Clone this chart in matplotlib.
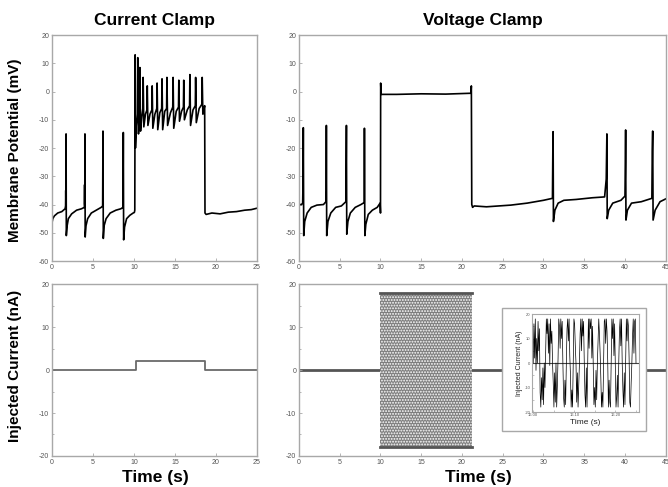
import numpy as np
import matplotlib
matplotlib.use("Agg")
import matplotlib.pyplot as plt
from matplotlib.patches import Rectangle

plt.rcParams['font.family'] = ['Liberation Sans', 'DejaVu Sans']
plt.rcParams['axes.unicode_minus'] = False
plt.rcParams['hatch.linewidth'] = 0.9

# ---------------- data ----------------
# Current clamp membrane potential: (time s, mV)
cc_points = [
    (0.0, -46.5), (0.1, -45), (0.3, -44), (0.7, -43), (1.2, -42.5), (1.6, -41.5),
    (1.66, -40.5), (1.68, -35), (1.70, -40), (1.72, -15), (1.75, -51), (1.85, -47.5),
    (2.0, -45), (2.4, -43.3), (3.0, -42), (3.6, -41.5),
    (3.95, -41), (3.98, -33), (4.00, -40), (4.02, -15), (4.05, -51.5), (4.15, -47.5),
    (4.35, -45), (4.8, -43), (5.4, -42), (6.0, -41),
    (6.18, -40.5), (6.22, -14), (6.26, -52), (6.36, -47.5), (6.6, -45),
    (7.1, -43), (7.8, -42), (8.4, -41.5),
    (8.66, -41), (8.70, -14.5), (8.74, -52.5), (8.85, -48), (9.1, -45), (9.5, -43.8),
    (9.9, -43), (10.05, -42.8), (10.1, -42),
    (10.14, 13), (10.18, -20), (10.3, -12), (10.42, -8), (10.46, 12), (10.55, -15),
    (10.68, -7), (10.72, 8.5), (10.8, -14), (10.95, -9),
    (11.08, -6), (11.12, 5), (11.2, -12.5), (11.4, -8),
    (11.58, -6.5), (11.62, 2), (11.7, -12), (11.95, -8),
    (12.18, -6.5), (12.22, 2), (12.3, -13), (12.55, -8),
    (12.78, -6), (12.82, 3), (12.9, -13.5), (13.15, -7.5),
    (13.38, -6), (13.42, 4.5), (13.5, -13.5), (13.75, -7),
    (13.98, -6), (14.02, 5), (14.1, -12), (14.45, -7.5),
    (14.73, -5.5), (14.77, 5), (14.85, -13), (15.15, -7),
    (15.43, -5.5), (15.47, 4), (15.55, -10.5), (15.8, -7),
    (16.03, -5.5), (16.07, 4), (16.15, -10), (16.5, -6.5),
    (16.78, -5), (16.82, 6), (16.9, -12), (17.2, -6.5),
    (17.48, -5), (17.52, 5), (17.6, -11), (17.95, -6),
    (18.28, -4.5), (18.32, 5), (18.4, -8), (18.55, -6), (18.62, -5), (18.66, -43),
    (18.8, -43.5), (19.5, -43), (20.5, -43.3), (21.5, -42.7), (22.5, -42.5),
    (23.5, -42), (24.3, -41.8), (25.0, -41.3)]

# Current clamp injected current: (time s, nA)
cc_i_points = [(0, 0), (10.2, 0), (10.2, 2), (18.7, 2), (18.7, 0), (25, 0)]

# Voltage clamp membrane potential: (time s, mV)
vc_points = [
    (0.0, -40), (0.3, -40), (0.45, -39.5), (0.5, -31), (0.53, -12.8), (0.58, -51),
    (0.7, -46), (1.0, -43), (1.5, -41), (2.2, -40.2), (3.0, -40),
    (3.3, -39), (3.33, -35), (3.36, -12), (3.40, -51), (3.55, -46),
    (3.9, -43), (4.5, -41), (5.2, -40.5),
    (5.75, -39), (5.78, -28), (5.82, -12), (5.86, -50.5), (6.0, -46), (6.3, -43),
    (6.9, -41), (7.6, -40),
    (8.0, -39.3), (8.03, -13), (8.08, -51), (8.2, -47), (8.5, -43.5),
    (9.0, -42), (9.6, -41), (9.95, -39.5), (10.0, -43), (10.02, 3), (10.08, -1),
    (12.0, -1), (15.0, -0.8), (18.0, -0.9), (21.1, -0.6), (21.15, 2), (21.2, -40),
    (21.3, -41), (21.5, -40.5), (23.0, -40.8), (26.0, -40.2), (28.0, -39.5), (30.0, -38.5),
    (31.1, -37.8), (31.15, -20), (31.18, -14.2), (31.22, -46), (31.4, -42), (31.8, -39.5),
    (32.5, -38.5), (34.0, -38.2), (36.0, -37.6),
    (37.5, -37.3), (37.7, -31), (37.78, -15), (37.82, -45), (38.0, -42), (38.5, -39.5),
    (39.5, -38.5),
    (40.0, -37), (40.05, -25), (40.08, -13.6), (40.12, -45.5), (40.3, -42), (40.8, -39.5),
    (42.0, -39),
    (43.3, -37.8), (43.35, -21), (43.4, -14), (43.45, -45.5), (43.7, -42), (44.3, -39),
    (45.0, -38)]

# Voltage clamp injected current: baseline and noise block
vc_i_t = [0, 45]
vc_i_v = [0, 0]
noise_t = [10.0, 21.2]
noise_amp = 18

# Inset: injected current between 16.00 and 16.25 s (nA)
inset_i = [0, 16, 2, 18, -3, 10, 0, 17, 5, 14, -12, -18, -6, -15, -2, -17, 0, -10, 3, 18,
           12, 18, 4, 16, -1, 18, 8, 13, 0, -8, -18, -4, -16, 0, -18, -9, 2, 18, 15, 6,
           18, 10, 17, 0, -14, -18, -7, -17, 0, 14, 18, 9, 18, 3, -5, -18, -11, -18, 0, 18,
           16, 7, 0, -16, -4, -18, -9, 0, 12, 18, 5, 18, 11, 17, 0, -13, -18, -2, -18, 0,
           18, 6, 18, 14, 18, 2, 15, 0, -17, -10, -18, -3, -15, 0, 9, 18, 12, 4, -6, -18,
           -12, -18, 0, 17, 18, 8, 18, 13, 1, -18, -7, -16, -18, 0, 18, 10, 18, 3, 16, -2,
           -18, -14, -5, -18, 0, 13, 18, 7, 18, 0, -11, -18, -4, -17, 0, 18, 9, 18, 15, 2,
           -16, -18, -8, 0, 11, 18, 4, 17, 18, 0]
inset_t0, inset_t1 = 16.0, 16.25

cc_t, cc_v = zip(*cc_points)
cc_i_t, cc_i_v = zip(*cc_i_points)
vc_t, vc_v = zip(*vc_points)

# ---------------- figure ----------------
fig = plt.figure(figsize=(6.68, 4.87), dpi=100)

spine_c = '#a8a8a8'
tick_c = '#555555'


def style(ax, xlim, ylim, xstep, ystep, yminor=None, fs=5):
    ax.set_xlim(*xlim)
    ax.set_ylim(*ylim)
    ax.set_xticks(np.arange(xlim[0], xlim[1] + 1e-9, xstep))
    ax.set_yticks(np.arange(ylim[0], ylim[1] + 1e-9, ystep))
    if yminor:
        ax.set_yticks(np.arange(ylim[0], ylim[1] + 1e-9, yminor), minor=True)
    for s in ax.spines.values():
        s.set_color(spine_c)
        s.set_linewidth(1.0)
    ax.tick_params(which='both', direction='in', length=2, width=0.6, color=spine_c,
                   labelsize=fs, labelcolor=tick_c, pad=2)
    ax.tick_params(which='minor', length=1.5)


ax_tl = fig.add_axes([0.0778, 0.464, 0.3069, 0.464])
ax_tr = fig.add_axes([0.4476, 0.464, 0.549, 0.464])
ax_bl = fig.add_axes([0.0778, 0.0637, 0.3069, 0.353])
ax_br = fig.add_axes([0.4476, 0.0637, 0.549, 0.353])

ax_tl.plot(cc_t, cc_v, color='black', lw=1.2)
style(ax_tl, (0, 25), (-60, 20), 5, 10)

ax_tr.plot(vc_t, vc_v, color='black', lw=1.2)
style(ax_tr, (0, 45), (-60, 20), 5, 10)

ax_bl.plot(cc_i_t, cc_i_v, color='#6a6a6a', lw=1.3)
style(ax_bl, (0, 25), (-20, 20), 5, 10, yminor=5)

ax_br.plot(vc_i_t, vc_i_v, color='#555555', lw=2.0, zorder=1)
ax_br.fill_between(noise_t, [-noise_amp, -noise_amp], [noise_amp, noise_amp],
                   facecolor='#7e7e7e', edgecolor='white', hatch='......', lw=0, zorder=2)
ax_br.plot(noise_t, [noise_amp, noise_amp], color='#555555', lw=2.0, zorder=3)
ax_br.plot(noise_t, [-noise_amp, -noise_amp], color='#555555', lw=2.0, zorder=3)
style(ax_br, (0, 45), (-20, 20), 5, 10, yminor=5)

# Inset box
fig.patches.append(Rectangle((0.7515, 0.115), 0.2155, 0.2526, transform=fig.transFigure,
                             facecolor='white', edgecolor=spine_c, lw=1.0, zorder=5))
ax_in = fig.add_axes([0.7964, 0.154, 0.160, 0.2012], zorder=6)
tin = np.linspace(inset_t0, inset_t1, len(inset_i))
ax_in.plot([inset_t0 - 0.01, inset_t1 + 0.01], [0, 0], color='#444444', lw=0.8)
ax_in.plot(tin, inset_i, color='black', lw=0.5)
ax_in.set_xlim(15.997, 16.257)
ax_in.set_ylim(-20, 20)
ax_in.set_xticks([16.0, 16.1, 16.2])
ax_in.set_xticklabels(['16.00', '16.10', '16.20'])
ax_in.set_xticks([16.05, 16.15, 16.25], minor=True)
ax_in.set_yticks([-20, -10, 0, 10, 20])
ax_in.set_yticks([-15, -5, 5, 15], minor=True)
for s in ax_in.spines.values():
    s.set_color(spine_c)
    s.set_linewidth(0.8)
ax_in.tick_params(which='both', direction='in', length=1.5, width=0.5, color=spine_c,
                  labelsize=3, labelcolor=tick_c, pad=1)
ax_in.set_xlabel('Time (s)', fontsize=6, labelpad=1, color='#222222')
ax_in.set_ylabel('Injected Current (nA)', fontsize=5, labelpad=1, color='#222222')

# Titles and labels
fig.text(0.2313, 0.957, 'Current Clamp', ha='center', va='center', fontsize=12.5, fontweight='bold')
fig.text(0.7225, 0.957, 'Voltage Clamp', ha='center', va='center', fontsize=12.5, fontweight='bold')
fig.text(0.0225, 0.692, 'Membrane Potential (mV)', ha='center', va='center', rotation=90,
         fontsize=11, fontweight='bold')
fig.text(0.0225, 0.248, 'Injected Current (nA)', ha='center', va='center', rotation=90,
         fontsize=11, fontweight='bold')
fig.text(0.232, 0.0185, 'Time (s)', ha='center', va='center', fontsize=12.5, fontweight='bold')
fig.text(0.716, 0.0185, 'Time (s)', ha='center', va='center', fontsize=12.5, fontweight='bold')

fig.savefig('out.png', dpi=100)
